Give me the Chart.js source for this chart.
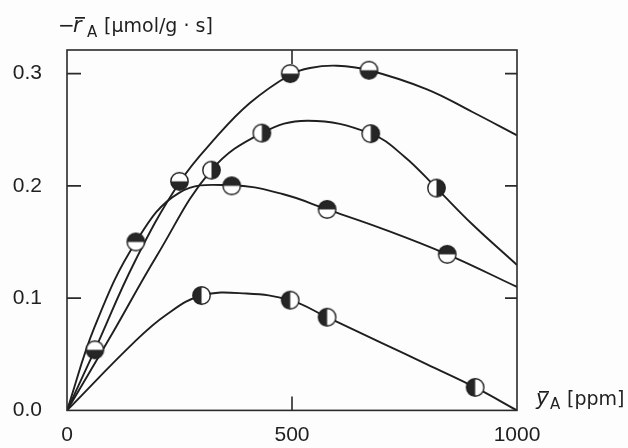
<!DOCTYPE html>
<html>
<head>
<meta charset="utf-8">
<script src="https://cdn.jsdelivr.net/npm/chart.js@4.4.1/dist/chart.umd.min.js"></script>
<style>
  html, body { margin: 0; padding: 0; background: #fdfdfd; }
  canvas { display: block; }
</style>
</head>
<body>
<canvas id="myChart" width="628" height="448"></canvas>
<script>
// tick labels
const xTicks = [0, 500, 1000];
const yTicks = [0, 0.1, 0.2, 0.3];

// curve 1 (top, max ~0.31)
const c1LineX = [0, 62, 150, 250, 333, 407, 496, 540, 600, 671, 800, 900, 1000];
const c1LineY = [0, 0.054, 0.132, 0.203, 0.244, 0.274, 0.299, 0.305, 0.307, 0.303, 0.286, 0.266, 0.245];
const c1MarkX = [62, 250, 496, 671];
const c1MarkY = [0.054, 0.204, 0.3, 0.303];

// curve 2 (max ~0.26)
const c2LineX = [0, 100, 200, 321, 433, 535, 675, 750, 821, 900, 1000];
const c2LineY = [0, 0.068, 0.138, 0.214, 0.247, 0.258, 0.2465, 0.226, 0.198, 0.166, 0.1295];
const c2MarkX = [321, 433, 675, 821];
const c2MarkY = [0.214, 0.247, 0.2465, 0.198];

// curve 3 (max ~0.20)
const c3LineX = [0, 62, 153, 250, 366, 481, 578, 703, 845, 1000];
const c3LineY = [0, 0.075, 0.15, 0.194, 0.2005, 0.1925, 0.179, 0.1615, 0.139, 0.11];
const c3MarkX = [153, 366, 578, 845];
const c3MarkY = [0.15, 0.2, 0.179, 0.139];

// curve 4 (bottom, max ~0.10)
const c4LineX = [0, 150, 220, 299, 399, 496, 578, 700, 800, 907, 1000];
const c4LineY = [0, 0.061, 0.085, 0.1023, 0.1041, 0.0982, 0.083, 0.06, 0.041, 0.0205, 0];
const c4MarkX = [299, 496, 578, 907];
const c4MarkY = [0.1023, 0.0982, 0.083, 0.0205];

const ink = "#1f1f1f";

function toPoints(xs, ys) {
  return xs.map((x, i) => ({ x: x, y: ys[i] }));
}

// half filled circle, dark half on the given side
function makeMarker(side) {
  const c = document.createElement("canvas");
  c.width = 21;
  c.height = 21;
  const g = c.getContext("2d");
  const cx = 10.5, cy = 10.5, r = 8.7;
  g.fillStyle = "#ffffff";
  g.beginPath();
  g.arc(cx, cy, r, 0, 2 * Math.PI);
  g.fill();
  const start = { bottom: 0, top: Math.PI, right: -Math.PI / 2, left: Math.PI / 2 }[side];
  g.fillStyle = "#262626";
  g.beginPath();
  g.moveTo(cx, cy);
  g.arc(cx, cy, r, start, start + Math.PI);
  g.closePath();
  g.fill();
  g.strokeStyle = ink;
  g.lineWidth = 1.4;
  g.beginPath();
  g.arc(cx, cy, r, 0, 2 * Math.PI);
  g.stroke();
  return c;
}

function lineSet(xs, ys) {
  return {
    data: toPoints(xs, ys),
    showLine: true,
    borderColor: ink,
    borderWidth: 1.9,
    pointRadius: 0,
    tension: 0.4,
    order: 2,
  };
}

function markSet(xs, ys, side) {
  return {
    data: toPoints(xs, ys),
    showLine: false,
    pointStyle: makeMarker(side),
    pointRadius: 10,
    order: 1,
  };
}

const frame = {
  id: "frame",
  afterDatasetsDraw(chart) {
    const { ctx, chartArea: a, scales } = chart;
    ctx.save();
    ctx.strokeStyle = "#2a2a2a";
    ctx.lineWidth = 1.6;
    ctx.strokeRect(a.left, a.top, a.right - a.left, a.bottom - a.top);
    ctx.beginPath();
    yTicks.filter((v) => v > 0).forEach((v) => {
      const py = scales.y.getPixelForValue(v);
      ctx.moveTo(a.left, py);
      ctx.lineTo(a.left + 14, py);
      ctx.moveTo(a.right, py);
      ctx.lineTo(a.right - 12, py);
    });
    xTicks.filter((v) => v > 0 && v < 1000).forEach((v) => {
      const px = scales.x.getPixelForValue(v);
      ctx.moveTo(px, a.top);
      ctx.lineTo(px, a.top + 14);
      ctx.moveTo(px, a.bottom);
      ctx.lineTo(px, a.bottom - 14);
    });
    ctx.stroke();

    // axis titles
    ctx.fillStyle = ink;
    ctx.textBaseline = "alphabetic";
    ctx.font = '20px "DejaVu Sans"';
    ctx.fillText("\u2212", 58, 32);
    ctx.font = 'italic 21px "DejaVu Sans"';
    ctx.fillText("r", 73, 32);
    ctx.fillRect(75, 17, 10, 1.7);
    ctx.font = '15px "DejaVu Sans"';
    ctx.fillText("A", 87, 37);
    ctx.font = '19px "DejaVu Sans"';
    ctx.fillText("[\u03bcmol/g \u00b7 s]", 104, 32);

    ctx.font = 'italic 21px "DejaVu Sans"';
    ctx.fillText("y", 536, 405);
    ctx.fillRect(539, 391, 10, 1.7);
    ctx.font = '15px "DejaVu Sans"';
    ctx.fillText("A", 550, 409);
    ctx.font = '19px "DejaVu Sans"';
    ctx.fillText("[ppm]", 567, 405);
    ctx.restore();
  },
};

const bg = {
  id: "bg",
  beforeDraw(chart) {
    const { ctx, width, height } = chart;
    ctx.save();
    ctx.fillStyle = "#fdfdfd";
    ctx.fillRect(0, 0, width, height);
    ctx.restore();
  },
};

const tickFont = { family: "Liberation Sans", size: 21 };

new Chart(document.getElementById("myChart").getContext("2d"), {
  type: "scatter",
  data: {
    datasets: [
      lineSet(c1LineX, c1LineY),
      lineSet(c2LineX, c2LineY),
      lineSet(c3LineX, c3LineY),
      lineSet(c4LineX, c4LineY),
      markSet(c1MarkX, c1MarkY, "bottom"),
      markSet(c2MarkX, c2MarkY, "right"),
      markSet(c3MarkX, c3MarkY, "top"),
      markSet(c4MarkX, c4MarkY, "left"),
    ],
  },
  options: {
    responsive: false,
    animation: false,
    devicePixelRatio: 1,
    layout: { padding: { top: 50, right: 111, left: 0, bottom: 0 } },
    plugins: {
      legend: { display: false },
      tooltip: { enabled: false },
    },
    scales: {
      x: {
        type: "linear",
        min: 0,
        max: 1000,
        afterBuildTicks: (s) => { s.ticks = xTicks.map((v) => ({ value: v })); },
        afterFit: (s) => { s.height = 32; },
        grid: { display: false, drawTicks: false },
        border: { display: false },
        ticks: {
          font: tickFont,
          color: ink,
          padding: 12,
          maxRotation: 0,
          autoSkip: false,
          callback: (v) => String(v),
        },
      },
      y: {
        type: "linear",
        min: 0,
        max: 0.321,
        afterBuildTicks: (s) => { s.ticks = yTicks.map((v) => ({ value: v })); },
        afterFit: (s) => { s.width = 67; },
        grid: { display: false, drawTicks: false },
        border: { display: false },
        ticks: {
          font: tickFont,
          color: ink,
          padding: 25,
          callback: (v) => v.toFixed(1),
        },
      },
    },
  },
  plugins: [bg, frame],
});
</script>
</body>
</html>
